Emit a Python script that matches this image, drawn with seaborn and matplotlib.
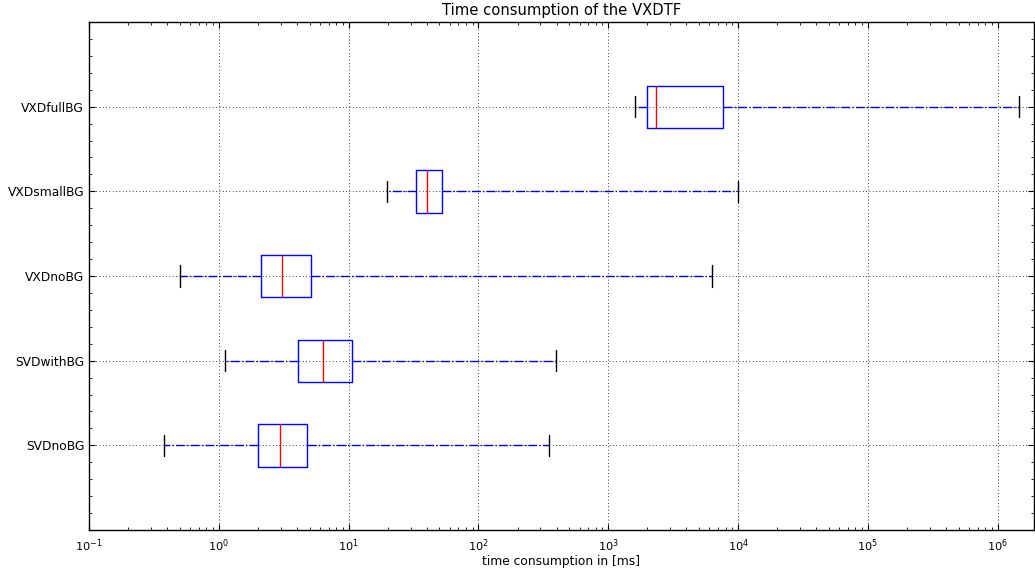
import numpy as np
import pandas as pd
import matplotlib
matplotlib.use("Agg")
import matplotlib.pyplot as plt
import matplotlib.ticker as mticker
import seaborn as sns

# Data (ms): whisker low, Q1, median, Q3, whisker high
categories = ["VXDfullBG", "VXDsmallBG", "VXDnoBG", "SVDwithBG", "SVDnoBG"]
whisker_low = [1610, 19.6, 0.50, 1.11, 0.38]
q1 = [1980, 32.9, 2.11, 4.09, 2.00]
median = [2340, 40.2, 3.09, 6.30, 2.96]
q3 = [7620, 52.2, 5.16, 10.6, 4.78]
whisker_high = [1.45e6, 10000, 6250, 397, 350]
x_ticks = [1e-1, 1e0, 1e1, 1e2, 1e3, 1e4, 1e5, 1e6]

title = "Time consumption of the VXDTF"
xlabel = "time consumption in [ms]"

rows = []
for i, c in enumerate(categories):
    for v in (whisker_low[i], q1[i], median[i], q3[i], whisker_high[i]):
        rows.append({"method": c, "time": v})
df = pd.DataFrame(rows)

sns.set_style("white")
plt.rcParams["font.family"] = ["DejaVu Sans"]
plt.rcParams["text.color"] = "black"
plt.rcParams["axes.labelcolor"] = "black"

fig = plt.figure(figsize=(10.35, 5.70), dpi=100)
ax = fig.add_axes([89 / 1035, 40 / 570, (1034 - 89) / 1035, (530 - 22) / 570])

sns.boxplot(
    data=df, x="time", y="method", order=categories, orient="h",
    whis=(0, 100), showfliers=False, width=0.5, fill=False, color="blue",
    log_scale=True, ax=ax,
    boxprops=dict(color="blue", linewidth=1.0),
    whiskerprops=dict(color="blue", linestyle="-.", linewidth=1.0),
    capprops=dict(color="black", linewidth=1.0),
    medianprops=dict(color="red", linewidth=1.0),
)

ax.set_xlim(0.1, 1.9e6)
ax.set_ylim(5, -1)
ax.xaxis.set_major_locator(mticker.FixedLocator(x_ticks))
minor = [m * t for t in x_ticks for m in range(2, 10) if m * t < 1.9e6]
ax.xaxis.set_minor_locator(mticker.FixedLocator(minor))
ax.xaxis.set_major_formatter(mticker.LogFormatterSciNotation())
ax.xaxis.set_minor_formatter(mticker.NullFormatter())
ax.yaxis.set_minor_locator(mticker.MultipleLocator(0.2))

ax.grid(True, which="major", color="black", linestyle=(0, (1, 3)), linewidth=0.6)
ax.set_axisbelow(False)
ax.tick_params(which="both", direction="in", top=True, right=True, bottom=True, left=True,
               colors="black", labelsize=8.8)
ax.tick_params(which="major", length=4, width=0.8)
ax.tick_params(which="minor", length=2, width=0.6)
ax.tick_params(axis="x", pad=5, labelsize=8.2)
for s in ax.spines.values():
    s.set_visible(True)
    s.set_color("black")
    s.set_linewidth(1.0)

ax.set_title(title, fontsize=10.6, pad=5, color="black")
ax.set_xlabel(xlabel, fontsize=8.8, labelpad=1)
ax.set_ylabel("")

fig.savefig("out.png", dpi=100, facecolor="white")
